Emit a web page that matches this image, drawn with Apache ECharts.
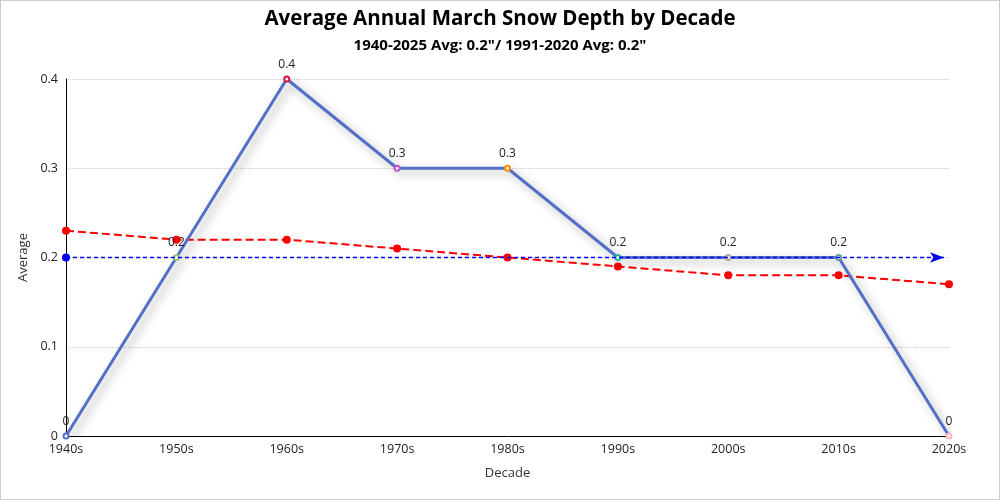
<!DOCTYPE html>
<html><head><meta charset="utf-8">
<script src="https://cdn.jsdelivr.net/npm/echarts@6/dist/echarts.min.js"></script>
<style>html,body{margin:0;padding:0;background:#fff}#c{width:998px;height:498px;border:1px solid #ccc}</style>
</head><body><div id="c"></div>
<script>
var categories = ['1940s','1950s','1960s','1970s','1980s','1990s','2000s','2010s','2020s'];
var averageValues = [0, 0.2, 0.4, 0.3, 0.3, 0.2, 0.2, 0.2, 0];
var trendValues = [0.23, 0.22, 0.22, 0.21, 0.2, 0.19, 0.18, 0.18, 0.17];
var markerColors = ['#5470c6','#91cc75','#dc143c','#ba55d3','#ff8c00','#20b2aa','#a9a9a9','#5f9ea0','#ffb6c1'];
var normalValue = 0.2;
var font = '"Open Sans", "Noto Sans", sans-serif';
var chart = echarts.init(document.getElementById('c'));
var blueLine = {color:'#0000ff', type:[4,3], width:1.3, opacity:1};
chart.setOption({
  textStyle:{fontFamily:font},
  title:{text:'Average Annual March Snow Depth by Decade', subtext:'1940-2025 Avg: 0.2"/ 1991-2020 Avg: 0.2"', left:'center', top:3, itemGap:8,
    textStyle:{fontFamily:font, fontSize:20.5, fontWeight:'bold', color:'#000'},
    subtextStyle:{fontFamily:font, fontSize:15, fontWeight:'bold', color:'#000'}},
  grid:{left:65, right:50, top:78, bottom:63},
  xAxis:{type:'category', data:categories, boundaryGap:false, name:'Decade', nameLocation:'middle', nameGap:31,
    nameTextStyle:{color:'#333', fontSize:13, fontFamily:font},
    axisLine:{lineStyle:{color:'#000'}}, axisTick:{show:false},
    axisLabel:{color:'#222', fontSize:12.5, fontFamily:font, margin:7}},
  yAxis:{type:'value', min:0, max:0.4, interval:0.1, name:'Average', nameLocation:'middle', nameGap:32,
    nameTextStyle:{color:'#333', fontSize:13, fontFamily:font},
    axisLine:{show:true, lineStyle:{color:'#000'}},
    axisLabel:{color:'#222', fontSize:12.5, fontFamily:font},
    splitLine:{lineStyle:{type:'dotted', color:'#ccc'}}},
  series:[
    {type:'line', data:averageValues.map(function(v,i){return {value:v, itemStyle:{color:markerColors[i], borderColor:markerColors[i], borderWidth:1.5}};}),
      symbol:'emptyCircle', symbolSize:5, z:3,
      lineStyle:{color:'#5470c6', width:3, shadowColor:'rgba(0,0,0,0.35)', shadowBlur:10, shadowOffsetX:4, shadowOffsetY:4},
      label:{show:true, position:'top', color:'#222', fontSize:12, fontFamily:font, distance:5}},
    {type:'line', data:trendValues, symbol:'circle', symbolSize:8, z:2,
      itemStyle:{color:'#ff0000'}, lineStyle:{color:'#ff0000', width:2, type:'dashed'},
      markLine:{silent:true, symbol:['circle','arrow'], symbolSize:[8,14], z:4,
        lineStyle:blueLine, itemStyle:{color:'#0000ff'},
        label:{show:false},
        data:[[{coord:['1940s', normalValue], lineStyle:blueLine, itemStyle:{color:'#0000ff'}},{coord:['2020s', normalValue], x:943, lineStyle:blueLine, itemStyle:{color:'#0000ff'}}]]}}
  ]
});
</script></body></html>
